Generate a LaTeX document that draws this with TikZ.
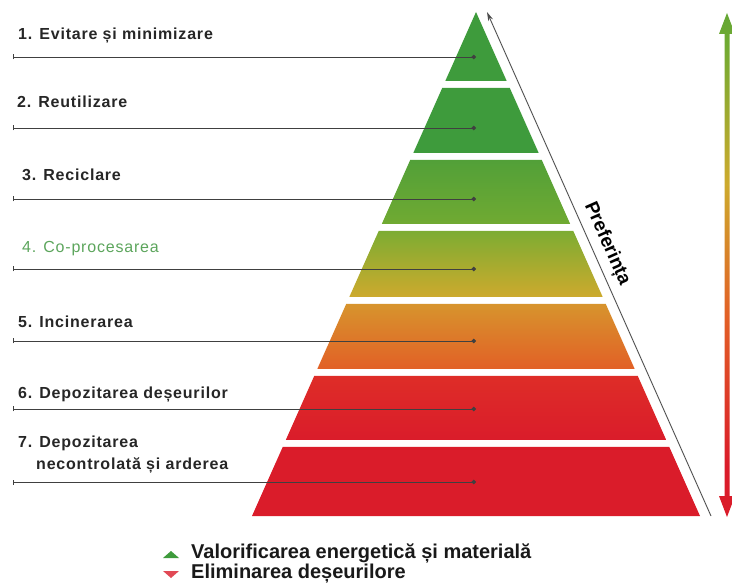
\documentclass[tikz,border=0pt]{standalone}
\usepackage{fontspec}
\setmainfont{Liberation Sans}
\newfontfamily\lblfont[LetterSpace=5]{Liberation Sans}
\usetikzlibrary{arrows.meta}
\definecolor{gtop}{RGB}{62,155,60}
\definecolor{g3t}{RGB}{82,160,56}
\definecolor{g3b}{RGB}{112,170,50}
\definecolor{g4t}{RGB}{125,172,50}
\definecolor{g4b}{RGB}{205,170,45}
\definecolor{o5t}{RGB}{215,148,45}
\definecolor{o5b}{RGB}{226,96,38}
\definecolor{r6t}{RGB}{222,45,40}
\definecolor{rbot}{RGB}{218,28,42}
\definecolor{lblgreen}{RGB}{92,165,92}
\pgfdeclareverticalshading{prefshade}{100bp}{color(0bp)=(rbot); color(30bp)=(rbot); color(45bp)=(o5b);
  color(58bp)=(g4b); color(72bp)=(g3b); color(85bp)=(gtop); color(100bp)=(gtop)}
\begin{document}
\begin{tikzpicture}[x=1pt,y=-1pt,
    lbl/.style={anchor=base west,inner sep=0pt,font=\lblfont\bfseries\fontsize{16}{19}\selectfont,text=black!85},
    leader/.style={{Bar[width=5pt]}-{Circle[length=4.5pt]},line width=0.9pt,draw=black!75},
    pref/.style={-{Stealth[length=9pt,width=5pt]},line width=0.9pt,draw=black!70},
    legend/.style={anchor=base west,inner sep=0pt,font=\bfseries\fontsize{20}{23}\selectfont,text=black!90}]
  \useasboundingbox (0,0) rectangle (732,588);

  % pyramid bands
  \fill[gtop] (476,12) -- (506.7,81) -- (445.3,81) -- cycle;
  \fill[gtop] (442.2,88) -- (509.8,88) -- (538.7,153) -- (413.3,153) -- cycle;
  \shade[top color=g3t,bottom color=g3b] (410.2,160) -- (541.8,160) -- (570.2,224) -- (381.8,224) -- cycle;
  \shade[top color=g4t,bottom color=g4b] (378.7,231) -- (573.3,231) -- (602.7,297) -- (349.3,297) -- cycle;
  \shade[top color=o5t,bottom color=o5b] (346.2,304) -- (605.8,304) -- (634.7,369) -- (317.3,369) -- cycle;
  \shade[top color=r6t,bottom color=rbot] (314.2,376) -- (637.8,376) -- (666.2,440) -- (285.8,440) -- cycle;
  \fill[rbot] (282.7,447) -- (669.3,447) -- (700,516) -- (252,516) -- cycle;

  % labels
  \path (18,40)  node[lbl] (l1) {1. Evitare și minimizare}
        (17,108) node[lbl] (l2) {2. Reutilizare}
        (22,181) node[lbl] (l3) {3. Reciclare}
        (22,253) node[lbl,text=lblgreen,font=\lblfont\fontsize{16}{19}\selectfont] (l4) {4. Co-procesarea}
        (18,328) node[lbl] (l5) {5. Incinerarea}
        (18,399) node[lbl] (l6) {6. Depozitarea deșeurilor}
        (18,448) node[lbl] (l7) {7. Depozitarea}
        (36,469) node[lbl] (l7b) {necontrolată și arderea};

  % leader lines
  \coordinate (s1) at (13,57);  \coordinate (e1) at (476,57);
  \coordinate (s2) at (13,128); \coordinate (e2) at (476,128);
  \coordinate (s3) at (13,199); \coordinate (e3) at (476,199);
  \coordinate (s4) at (13,269); \coordinate (e4) at (476,269);
  \coordinate (s5) at (13,341); \coordinate (e5) at (476,341);
  \coordinate (s6) at (13,409); \coordinate (e6) at (476,409);
  \coordinate (s7) at (13,482); \coordinate (e7) at (476,482);
  \draw[leader] (s1) -- (e1);
  \draw[leader] (s2) -- (e2);
  \draw[leader] (s3) -- (e3);
  \draw[leader] (s4) -- (e4);
  \draw[leader] (s5) -- (e5);
  \draw[leader] (s6) -- (e6);
  \draw[leader] (s7) -- (e7);

  % preference arrow
  \coordinate (pb) at (711,516);
  \coordinate (pt) at (487,12);
  \draw[pref] (pb) -- (pt);
  \node[rotate=-66,inner sep=0pt,font=\bfseries\fontsize{19}{22}\selectfont] (pr) at (607,244) {Preferința};

  % right double arrow
  \shade[shading=prefshade]
    (727,13) -- (735,34) -- (729.5,34) -- (729.5,496) -- (735,496) -- (727,517)
    -- (719,496) -- (724.5,496) -- (724.5,34) -- (719,34) -- cycle;

  % legend
  \fill[gtop] (163,558) -- (179,558) -- (171,551) -- cycle;
  \fill[rbot!80!white] (163,571) -- (179,571) -- (171,578) -- cycle;
  \path (191,558) node[legend] (v) {Valorificarea energetică și materială}
        (191,578) node[legend] (el) {Eliminarea deșeurilore};
\end{tikzpicture}
\end{document}
